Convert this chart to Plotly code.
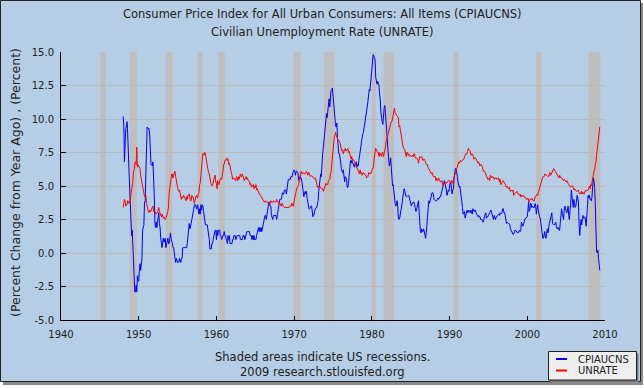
import pandas as pd
import plotly.graph_objects as go

# ---------------- data ----------------
start_month = "1948-01-01"

# CPIAUCNS, percent change from year ago (monthly, Jan 1948 - May 2009)
cpi_yoy = [
    10.2, 9.5, 6.8, 8.3, 9.3, 9.4, 9.8, 8.9, 6.5, 6.1, 4.8, 3.0,      # 1948
    1.3, 1.3, 1.7, 0.4, -0.4, -0.9, -2.9, -2.9, -2.4, -2.9, -1.7, -2.1,  # 1949
    -2.1, -1.3, -0.8, -1.3, -0.4, -0.4, 1.7, 2.1, 2.1, 3.8, 3.8, 5.9,   # 1950
    8.1, 9.4, 9.3, 9.3, 9.3, 8.8, 7.5, 6.6, 6.6, 6.5, 6.8, 6.0,       # 1951
    4.3, 2.3, 1.9, 2.3, 1.9, 2.3, 3.0, 3.0, 2.2, 1.9, 1.1, 0.8,       # 1952
    0.4, 0.8, 1.1, 0.8, 1.1, 1.1, 0.4, 0.7, 0.7, 1.1, 0.7, 0.7,       # 1953
    1.1, 1.5, 1.1, 0.7, 0.7, 0.4, 0.4, 0.0, -0.4, -0.7, -0.4, -0.7,   # 1954
    -0.7, -0.7, -0.7, -0.4, -0.7, -0.7, -0.4, -0.4, 0.4, 0.4, 0.4, 0.4,  # 1955
    0.4, 0.4, 0.4, 0.7, 1.1, 1.8, 2.2, 1.8, 2.2, 2.2, 2.5, 2.9,       # 1956
    2.9, 3.3, 3.6, 3.6, 3.6, 3.3, 3.3, 3.6, 3.3, 2.9, 3.3, 2.9,       # 1957
    3.6, 3.2, 3.6, 3.5, 3.2, 2.8, 2.5, 2.1, 2.1, 2.1, 2.1, 1.7,       # 1958
    1.4, 1.0, 0.3, 0.3, 0.3, 0.7, 0.7, 1.0, 1.3, 1.7, 1.7, 1.7,       # 1959
    1.0, 1.7, 1.3, 1.7, 1.7, 1.7, 1.3, 1.3, 1.0, 1.3, 1.3, 1.3,       # 1960
    1.6, 1.3, 1.3, 1.0, 1.0, 0.7, 1.3, 1.0, 1.3, 0.7, 0.7, 0.7,       # 1961
    0.7, 1.0, 1.0, 1.3, 1.3, 1.3, 1.0, 1.3, 1.3, 1.3, 1.3, 1.3,       # 1962
    1.3, 1.0, 1.0, 1.0, 1.0, 1.3, 1.3, 1.3, 1.0, 1.3, 1.3, 1.6,       # 1963
    1.6, 1.6, 1.6, 1.6, 1.3, 1.3, 1.3, 1.0, 1.3, 1.0, 1.3, 1.0,       # 1964
    1.0, 1.0, 1.3, 1.6, 1.6, 1.9, 1.6, 1.9, 1.6, 1.9, 1.6, 1.9,       # 1965
    1.9, 2.5, 2.5, 2.8, 2.8, 2.5, 2.8, 3.5, 3.5, 3.8, 3.8, 3.5,       # 1966
    3.5, 2.8, 2.5, 2.5, 2.8, 2.8, 2.8, 2.8, 2.8, 2.5, 2.8, 3.0,       # 1967
    3.6, 3.9, 4.0, 4.0, 4.0, 4.2, 4.5, 4.4, 4.4, 4.7, 4.7, 4.7,       # 1968
    4.4, 4.7, 5.3, 5.5, 5.5, 5.5, 5.5, 5.7, 5.7, 5.7, 6.0, 6.2,       # 1969
    6.2, 6.1, 5.8, 6.1, 6.1, 6.0, 6.0, 5.4, 5.7, 5.7, 5.6, 5.6,       # 1970
    5.3, 5.0, 4.7, 4.2, 4.4, 4.6, 4.4, 4.6, 4.1, 3.8, 3.3, 3.3,       # 1971
    3.3, 3.5, 3.5, 3.5, 3.2, 2.7, 2.9, 2.9, 3.2, 3.4, 3.4, 3.4,       # 1972
    3.6, 3.9, 4.6, 5.1, 5.5, 5.9, 5.7, 7.4, 7.4, 7.8, 8.3, 8.7,       # 1973
    9.4, 10.0, 10.4, 10.1, 10.7, 10.9, 11.5, 10.9, 12.1, 12.1, 12.2, 12.3,  # 1974
    11.8, 11.2, 10.3, 10.2, 9.5, 9.4, 9.7, 8.6, 7.9, 7.4, 7.4, 6.9,   # 1975
    6.7, 6.3, 6.1, 6.0, 6.2, 5.9, 5.3, 5.7, 5.5, 5.5, 4.9, 4.9,       # 1976
    5.2, 6.0, 6.4, 6.9, 6.7, 6.9, 6.8, 6.6, 6.6, 6.4, 6.7, 6.7,       # 1977
    6.8, 6.4, 6.6, 6.5, 6.9, 7.4, 7.7, 7.9, 8.3, 8.9, 8.9, 9.0,       # 1978
    9.3, 9.9, 10.1, 10.5, 10.8, 10.9, 11.3, 11.8, 12.2, 12.1, 12.6, 13.3,  # 1979
    13.9, 14.2, 14.8, 14.7, 14.4, 14.4, 13.1, 12.9, 12.6, 12.8, 12.6, 12.5,  # 1980
    11.8, 11.4, 10.5, 10.0, 9.8, 9.6, 10.8, 10.8, 11.0, 10.1, 9.6, 8.9,  # 1981
    8.4, 7.6, 6.8, 6.5, 6.7, 7.1, 6.4, 5.9, 5.0, 5.1, 4.6, 3.8,       # 1982
    3.7, 3.5, 3.6, 3.9, 3.5, 2.6, 2.5, 2.6, 2.9, 2.9, 3.3, 3.8,       # 1983
    4.2, 4.6, 4.8, 4.6, 4.2, 4.2, 4.2, 4.3, 4.3, 4.3, 4.1, 3.9,       # 1984
    3.5, 3.5, 3.7, 3.7, 3.8, 3.8, 3.6, 3.3, 3.1, 3.2, 3.5, 3.8,       # 1985
    3.9, 3.1, 2.2, 1.6, 1.5, 1.8, 1.6, 1.6, 1.8, 1.5, 1.3, 1.1,       # 1986
    1.5, 2.1, 3.0, 3.8, 3.9, 3.7, 3.9, 4.3, 4.4, 4.5, 4.5, 4.4,       # 1987
    4.0, 3.9, 3.9, 3.9, 3.9, 4.0, 4.1, 4.0, 4.2, 4.2, 4.2, 4.4,       # 1988
    4.7, 4.8, 5.0, 5.1, 5.4, 5.2, 5.0, 4.7, 4.3, 4.5, 4.7, 4.6,       # 1989
    5.2, 5.3, 5.2, 4.7, 4.4, 4.7, 4.8, 5.6, 6.2, 6.3, 6.3, 6.1,       # 1990
    5.7, 5.3, 4.9, 4.9, 5.0, 4.7, 4.4, 3.8, 3.4, 2.9, 3.0, 3.1,       # 1991
    2.6, 2.8, 3.2, 3.2, 3.0, 3.1, 3.2, 3.1, 3.0, 3.2, 3.0, 2.9,       # 1992
    3.3, 3.2, 3.1, 3.2, 3.2, 3.0, 2.8, 2.8, 2.7, 2.8, 2.7, 2.7,       # 1993
    2.5, 2.5, 2.5, 2.4, 2.3, 2.5, 2.8, 2.9, 3.0, 2.6, 2.7, 2.7,       # 1994
    2.8, 2.9, 2.9, 3.1, 3.2, 3.0, 2.8, 2.6, 2.5, 2.8, 2.6, 2.5,       # 1995
    2.7, 2.7, 2.8, 2.9, 2.9, 2.8, 3.0, 2.9, 3.0, 3.0, 3.3, 3.3,       # 1996
    3.0, 3.0, 2.8, 2.5, 2.2, 2.3, 2.2, 2.2, 2.2, 2.1, 1.8, 1.7,       # 1997
    1.6, 1.4, 1.4, 1.4, 1.7, 1.7, 1.7, 1.6, 1.5, 1.5, 1.5, 1.6,       # 1998
    1.7, 1.6, 1.7, 2.3, 2.1, 2.0, 2.1, 2.3, 2.6, 2.6, 2.6, 2.7,       # 1999
    2.7, 3.2, 3.8, 3.1, 3.2, 3.7, 3.7, 3.4, 3.5, 3.4, 3.4, 3.4,       # 2000
    3.7, 3.5, 2.9, 3.3, 3.6, 3.2, 2.7, 2.7, 2.6, 2.1, 1.9, 1.6,       # 2001
    1.1, 1.1, 1.5, 1.6, 1.2, 1.1, 1.5, 1.8, 1.5, 2.0, 2.2, 2.4,       # 2002
    2.6, 3.0, 3.0, 2.2, 2.1, 2.1, 2.1, 2.2, 2.3, 2.0, 1.8, 1.9,       # 2003
    1.9, 1.7, 1.7, 2.3, 3.1, 3.3, 3.0, 2.7, 2.5, 3.2, 3.5, 3.3,       # 2004
    3.0, 3.0, 3.1, 3.5, 2.8, 2.5, 3.2, 3.6, 4.7, 4.3, 3.5, 3.4,       # 2005
    4.0, 3.6, 3.4, 3.5, 4.2, 4.3, 4.1, 3.8, 2.1, 1.3, 2.0, 2.5,       # 2006
    2.1, 2.4, 2.8, 2.6, 2.7, 2.7, 2.4, 2.0, 2.8, 3.5, 4.3, 4.1,       # 2007
    4.3, 4.0, 4.0, 3.9, 4.2, 5.0, 5.6, 5.4, 4.9, 3.7, 1.1, 0.1,       # 2008
    0.0, 0.2, -0.4, -0.7, -1.3,                                       # 2009
]

# UNRATE, civilian unemployment rate, percent (monthly, Jan 1948 - May 2009)
unrate = [
    3.4, 3.8, 4.0, 3.9, 3.5, 3.6, 3.6, 3.9, 3.8, 3.7, 3.8, 4.0,   # 1948
    4.3, 4.7, 5.0, 5.3, 6.1, 6.2, 6.7, 6.8, 6.6, 7.9, 6.4, 6.6,   # 1949
    6.5, 6.4, 6.3, 5.8, 5.5, 5.4, 5.0, 4.5, 4.4, 4.2, 4.2, 4.3,   # 1950
    3.7, 3.4, 3.4, 3.1, 3.0, 3.2, 3.1, 3.1, 3.3, 3.5, 3.5, 3.1,   # 1951
    3.2, 3.1, 2.9, 2.9, 3.0, 3.0, 3.2, 3.4, 3.1, 3.0, 2.8, 2.7,   # 1952
    2.9, 2.6, 2.6, 2.7, 2.5, 2.5, 2.6, 2.7, 2.9, 3.1, 3.5, 4.5,   # 1953
    4.9, 5.2, 5.7, 5.9, 5.9, 5.6, 5.8, 6.0, 6.1, 5.7, 5.3, 5.0,   # 1954
    4.9, 4.7, 4.6, 4.7, 4.3, 4.2, 4.0, 4.2, 4.1, 4.3, 4.2, 4.2,   # 1955
    4.0, 3.9, 4.2, 4.0, 4.3, 4.3, 4.4, 4.1, 3.9, 3.9, 4.3, 4.2,   # 1956
    4.2, 3.9, 3.7, 3.9, 4.1, 4.3, 4.2, 4.1, 4.4, 4.5, 5.1, 5.2,   # 1957
    5.8, 6.4, 6.7, 7.4, 7.4, 7.3, 7.5, 7.4, 7.1, 6.7, 6.2, 6.2,   # 1958
    6.0, 5.9, 5.6, 5.2, 5.1, 5.0, 5.1, 5.2, 5.5, 5.7, 5.8, 5.3,   # 1959
    5.2, 4.8, 5.4, 5.2, 5.1, 5.4, 5.5, 5.6, 5.5, 6.1, 6.1, 6.6,   # 1960
    6.6, 6.9, 6.9, 7.0, 7.1, 6.9, 7.0, 6.6, 6.7, 6.5, 6.1, 6.0,   # 1961
    5.8, 5.5, 5.6, 5.6, 5.5, 5.5, 5.4, 5.7, 5.6, 5.4, 5.7, 5.5,   # 1962
    5.7, 5.9, 5.7, 5.7, 5.9, 5.6, 5.6, 5.4, 5.5, 5.5, 5.7, 5.5,   # 1963
    5.6, 5.4, 5.4, 5.3, 5.1, 5.2, 4.9, 5.0, 5.1, 5.1, 4.8, 5.0,   # 1964
    4.9, 5.1, 4.7, 4.8, 4.6, 4.6, 4.4, 4.4, 4.3, 4.2, 4.1, 4.0,   # 1965
    4.0, 3.8, 3.8, 3.8, 3.9, 3.8, 3.8, 3.8, 3.7, 3.7, 3.6, 3.8,   # 1966
    3.9, 3.8, 3.8, 3.8, 3.8, 3.9, 3.8, 3.8, 3.8, 4.0, 3.9, 3.8,   # 1967
    3.7, 3.8, 3.7, 3.5, 3.5, 3.7, 3.7, 3.5, 3.4, 3.4, 3.4, 3.4,   # 1968
    3.4, 3.4, 3.4, 3.4, 3.4, 3.5, 3.5, 3.5, 3.7, 3.7, 3.5, 3.5,   # 1969
    3.9, 4.2, 4.4, 4.6, 4.8, 4.9, 5.0, 5.1, 5.4, 5.5, 5.9, 6.1,   # 1970
    5.9, 5.9, 6.0, 5.9, 5.9, 5.9, 6.0, 6.1, 6.0, 5.8, 6.0, 6.0,   # 1971
    5.8, 5.7, 5.8, 5.7, 5.7, 5.7, 5.6, 5.6, 5.5, 5.6, 5.3, 5.2,   # 1972
    4.9, 5.0, 4.9, 5.0, 4.9, 4.9, 4.8, 4.8, 4.8, 4.6, 4.8, 4.9,   # 1973
    5.1, 5.2, 5.1, 5.1, 5.1, 5.4, 5.5, 5.5, 5.9, 6.0, 6.6, 7.2,   # 1974
    8.1, 8.1, 8.6, 8.8, 9.0, 8.8, 8.6, 8.4, 8.4, 8.4, 8.3, 8.2,   # 1975
    7.9, 7.7, 7.6, 7.7, 7.4, 7.6, 7.8, 7.8, 7.6, 7.7, 7.8, 7.8,   # 1976
    7.5, 7.6, 7.4, 7.2, 7.0, 7.2, 6.9, 7.0, 6.8, 6.8, 6.8, 6.4,   # 1977
    6.4, 6.3, 6.3, 6.1, 6.0, 5.9, 6.2, 5.9, 6.0, 5.8, 5.9, 6.0,   # 1978
    5.9, 5.9, 5.8, 5.8, 5.6, 5.7, 5.7, 6.0, 5.9, 6.0, 5.9, 6.0,   # 1979
    6.3, 6.3, 6.3, 6.9, 7.5, 7.6, 7.8, 7.7, 7.5, 7.5, 7.5, 7.2,   # 1980
    7.5, 7.4, 7.4, 7.2, 7.5, 7.5, 7.2, 7.4, 7.6, 7.9, 8.3, 8.5,   # 1981
    8.6, 8.9, 9.0, 9.3, 9.4, 9.6, 9.8, 9.8, 10.1, 10.4, 10.8, 10.8,  # 1982
    10.4, 10.4, 10.3, 10.2, 10.1, 10.1, 9.4, 9.5, 9.2, 8.8, 8.5, 8.3,  # 1983
    8.0, 7.8, 7.8, 7.7, 7.4, 7.2, 7.5, 7.5, 7.3, 7.4, 7.2, 7.3,   # 1984
    7.3, 7.2, 7.2, 7.3, 7.2, 7.4, 7.4, 7.1, 7.1, 7.1, 7.0, 7.0,   # 1985
    6.7, 7.2, 7.2, 7.1, 7.2, 7.2, 7.0, 6.9, 7.0, 7.0, 6.9, 6.6,   # 1986
    6.6, 6.6, 6.6, 6.3, 6.3, 6.2, 6.1, 6.0, 5.9, 6.0, 5.8, 5.7,   # 1987
    5.7, 5.7, 5.7, 5.4, 5.6, 5.4, 5.4, 5.6, 5.4, 5.4, 5.3, 5.3,   # 1988
    5.4, 5.2, 5.0, 5.2, 5.2, 5.3, 5.2, 5.2, 5.3, 5.3, 5.4, 5.4,   # 1989
    5.4, 5.3, 5.2, 5.4, 5.4, 5.2, 5.5, 5.7, 5.9, 5.9, 6.2, 6.3,   # 1990
    6.4, 6.6, 6.8, 6.7, 6.9, 6.9, 6.8, 6.9, 6.9, 7.0, 7.0, 7.3,   # 1991
    7.3, 7.4, 7.4, 7.4, 7.6, 7.8, 7.7, 7.6, 7.6, 7.3, 7.4, 7.4,   # 1992
    7.3, 7.1, 7.0, 7.1, 7.1, 7.0, 6.9, 6.8, 6.7, 6.8, 6.6, 6.5,   # 1993
    6.6, 6.6, 6.5, 6.4, 6.1, 6.1, 6.1, 6.0, 5.9, 5.8, 5.6, 5.5,   # 1994
    5.6, 5.4, 5.4, 5.8, 5.6, 5.6, 5.7, 5.7, 5.6, 5.5, 5.6, 5.6,   # 1995
    5.6, 5.5, 5.5, 5.6, 5.6, 5.3, 5.5, 5.1, 5.2, 5.2, 5.4, 5.4,   # 1996
    5.3, 5.2, 5.2, 5.1, 4.9, 5.0, 4.9, 4.8, 4.9, 4.7, 4.6, 4.7,   # 1997
    4.6, 4.6, 4.7, 4.3, 4.4, 4.5, 4.5, 4.5, 4.6, 4.5, 4.4, 4.4,   # 1998
    4.3, 4.4, 4.2, 4.3, 4.2, 4.3, 4.3, 4.2, 4.2, 4.1, 4.1, 4.0,   # 1999
    4.0, 4.1, 4.0, 3.8, 4.0, 4.0, 4.0, 4.1, 3.9, 3.9, 3.9, 3.9,   # 2000
    4.2, 4.2, 4.3, 4.4, 4.3, 4.5, 4.6, 4.9, 5.0, 5.3, 5.5, 5.7,   # 2001
    5.7, 5.7, 5.7, 5.9, 5.8, 5.8, 5.8, 5.7, 5.7, 5.7, 5.9, 6.0,   # 2002
    5.8, 5.9, 5.9, 6.0, 6.1, 6.3, 6.2, 6.1, 6.1, 6.0, 5.8, 5.7,   # 2003
    5.7, 5.6, 5.8, 5.6, 5.6, 5.6, 5.5, 5.4, 5.4, 5.5, 5.4, 5.4,   # 2004
    5.3, 5.4, 5.2, 5.2, 5.1, 5.0, 5.0, 4.9, 5.0, 5.0, 5.0, 4.9,   # 2005
    4.7, 4.8, 4.7, 4.7, 4.6, 4.6, 4.7, 4.7, 4.5, 4.4, 4.5, 4.4,   # 2006
    4.6, 4.5, 4.4, 4.5, 4.4, 4.6, 4.7, 4.6, 4.7, 4.7, 4.7, 5.0,   # 2007
    5.0, 4.8, 5.1, 5.0, 5.4, 5.6, 5.8, 6.1, 6.2, 6.6, 6.8, 7.3,   # 2008
    7.8, 8.3, 8.7, 8.9, 9.4,                                      # 2009
]

recession_starts = ["1945-02-01", "1948-11-01", "1953-07-01", "1957-08-01",
                    "1960-04-01", "1969-12-01", "1973-11-01", "1980-01-01",
                    "1981-07-01", "1990-07-01", "2001-03-01", "2007-12-01"]
recession_ends = ["1945-10-01", "1949-10-01", "1954-05-01", "1958-04-01",
                  "1961-02-01", "1970-11-01", "1975-03-01", "1980-07-01",
                  "1982-11-01", "1991-03-01", "2001-11-01", "2009-06-01"]

y_ticks = [-5.0, -2.5, 0.0, 2.5, 5.0, 7.5, 10.0, 12.5, 15.0]
x_tick_years = [1940, 1950, 1960, 1970, 1980, 1990, 2000, 2010]

series_names = ["CPIAUCNS", "UNRATE"]
series_colors = ["#0000FF", "#FF0000"]
title_lines = ["Consumer Price Index for All Urban Consumers: All Items (CPIAUCNS)",
               "Civilian Unemployment Rate (UNRATE)"]
y_title = "(Percent Change from Year Ago) , (Percent)"
note_lines = ["Shaded areas indicate US recessions.", "2009 research.stlouisfed.org"]

# ---------------- figure ----------------
W, H = 644, 388
ML, MR, MT, MB = 61, 39, 52, 68
PW, PH = W - ML - MR, H - MT - MB


def px_x(p):
    return (p - ML) / PW


def px_y(p):
    return (H - MB - p) / PH


FONT = "DejaVu Sans"
TXT = "#222222"
BG = "#B5CDE5"

cpi_dates = pd.date_range(start_month, periods=len(cpi_yoy), freq="MS")
un_dates = pd.date_range(start_month, periods=len(unrate), freq="MS")

fig = go.Figure()
fig.add_trace(go.Scatter(x=cpi_dates, y=cpi_yoy, mode="lines", name=series_names[0],
                         line=dict(color=series_colors[0], width=1)))
fig.add_trace(go.Scatter(x=un_dates, y=unrate, mode="lines", name=series_names[1],
                         line=dict(color=series_colors[1], width=1)))

shapes = []
# shadow + framed background of the whole chart
shapes.append(dict(type="rect", xref="paper", yref="paper", layer="below",
                   x0=px_x(3), x1=px_x(643), y0=px_y(3), y1=px_y(385),
                   fillcolor="#8A8A8A", line=dict(width=0)))
shapes.append(dict(type="rect", xref="paper", yref="paper", layer="below",
                   x0=px_x(0.5), x1=px_x(640.5), y0=px_y(0.5), y1=px_y(381.5),
                   fillcolor=BG, line=dict(color="#222222", width=1)))
for s, e in zip(recession_starts, recession_ends):
    shapes.append(dict(type="rect", xref="x", yref="paper", layer="below",
                       x0=s, x1=e, y0=0, y1=1, fillcolor="#BEBEBE",
                       line=dict(width=0)))

# legend box (drawn by hand to match the compact original)
shapes.append(dict(type="rect", xref="paper", yref="paper", layer="above",
                   x0=px_x(550), x1=px_x(638.5), y0=px_y(353.5), y1=px_y(382),
                   fillcolor="#7A7A7A", line=dict(width=0)))
shapes.append(dict(type="rect", xref="paper", yref="paper", layer="above",
                   x0=px_x(548.5), x1=px_x(636.5), y0=px_y(351.5), y1=px_y(380),
                   fillcolor="#EEEEEE", line=dict(color="#222222", width=1)))
legend_rows = [359, 370.5]
annotations = []
for name, color, yrow in zip(series_names, series_colors, legend_rows):
    shapes.append(dict(type="line", xref="paper", yref="paper", layer="above",
                       x0=px_x(556), x1=px_x(567), y0=px_y(yrow), y1=px_y(yrow),
                       line=dict(color=color, width=2)))
    annotations.append(dict(text=name, xref="paper", yref="paper",
                            x=px_x(576), y=px_y(yrow), xanchor="left", yanchor="middle",
                            showarrow=False,
                            font=dict(family=FONT, size=10, color=TXT)))

for line, yc in zip(title_lines, [14.5, 32]):
    annotations.append(dict(text=line, xref="paper", yref="paper",
                            x=px_x(W / 2), y=px_y(yc), xanchor="center", yanchor="middle",
                            showarrow=False, font=dict(family=FONT, size=11.5, color=TXT)))
for line, yc in zip(note_lines, [357, 371.5]):
    annotations.append(dict(text=line, xref="paper", yref="paper",
                            x=px_x(322), y=px_y(yc), xanchor="center", yanchor="middle",
                            showarrow=False, font=dict(family=FONT, size=11.5, color=TXT)))
annotations.append(dict(text=y_title, xref="paper", yref="paper", textangle=-90,
                        x=px_x(15), y=px_y(183), xanchor="center", yanchor="middle",
                        showarrow=False, font=dict(family=FONT, size=12.5, color=TXT)))

fig.update_layout(
    width=W, height=H,
    margin=dict(l=ML, r=MR, t=MT, b=MB, pad=0, autoexpand=False),
    paper_bgcolor="white",
    plot_bgcolor="white",
    showlegend=False,
    shapes=shapes,
    annotations=annotations,
    font=dict(family=FONT, size=10, color=TXT),
)

fig.update_xaxes(
    type="date", range=["1940-01-01", "2010-01-01"],
    tickvals=[f"{y}-01-01" for y in x_tick_years],
    ticktext=[str(y) for y in x_tick_years],
    showgrid=False, zeroline=False,
    showline=True, linecolor="black", linewidth=1,
    ticks="inside", ticklen=4, tickcolor="black",
    tickfont=dict(family=FONT, size=10, color=TXT),
    ticklabelstandoff=5,
)
fig.update_yaxes(
    range=[-5, 15], tickvals=y_ticks, ticktext=[f"{v:.1f}" for v in y_ticks],
    showgrid=True, gridcolor="#B9B9B9", gridwidth=1, zeroline=False,
    showline=True, linecolor="black", linewidth=1,
    ticks="inside", ticklen=5, tickcolor="black",
    tickfont=dict(family=FONT, size=10, color=TXT),
    ticklabelstandoff=4,
)

# the page's default 8px body margin would offset the chart; remove it
fig.write_html("out.html",
               config={"displayModeBar": False},
               post_script="document.body.style.margin='0';document.body.style.padding='0';")
